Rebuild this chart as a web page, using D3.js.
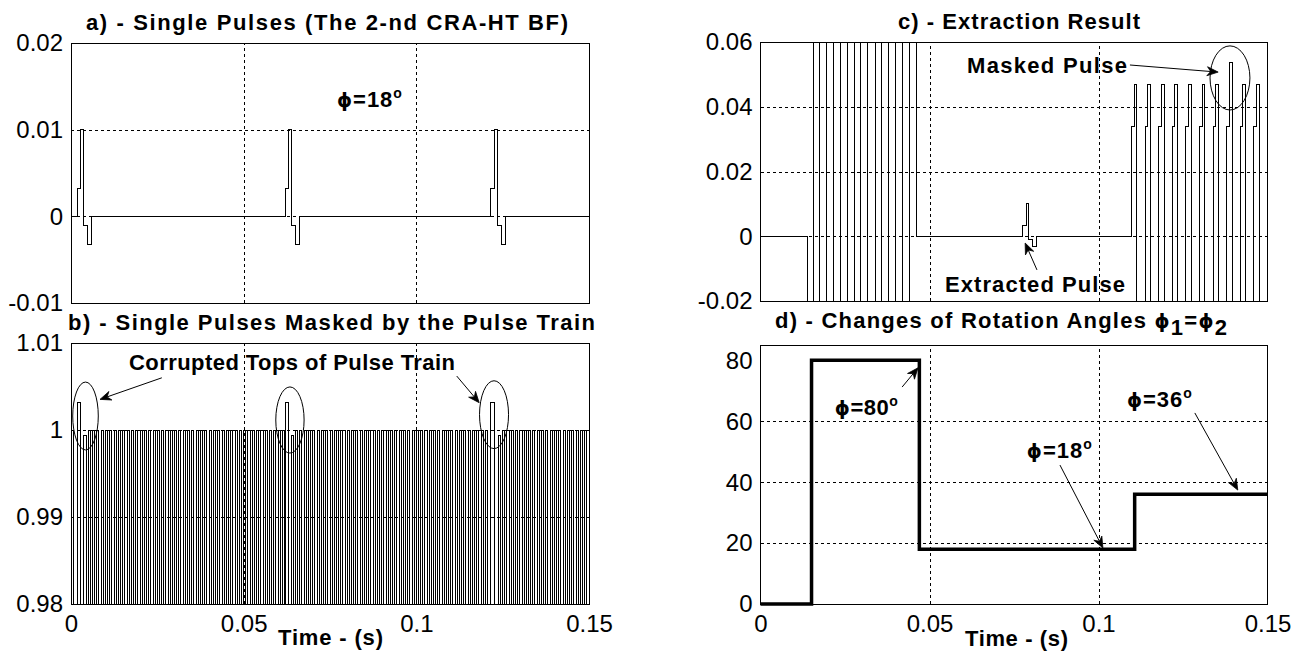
<!DOCTYPE html>
<html>
<head>
<meta charset="utf-8">
<title>Single pulses masked by a pulse train</title>
<style>
  body { margin: 0; background: #fff; }
  svg { display: block; }
  .tick text { font-family: "Liberation Sans", Arial, sans-serif; font-size: 24px; fill: #000; }
  .bold-label { font-family: "Liberation Sans", Arial, sans-serif; font-size: 22px; font-weight: bold; fill: #000; }
  .grid line { stroke: #000; stroke-width: 1; stroke-dasharray: 3,3; shape-rendering: crispEdges; }
  .signal { fill: none; stroke: #000; stroke-width: 1; shape-rendering: crispEdges; }
</style>
</head>
<body>
<svg id="viz"></svg>
<script src="https://cdn.jsdelivr.net/npm/d3@7/dist/d3.min.js"></script>
<script>
// ---- values ----
var tMax = 0.15;
var xTicks = [0, 0.05, 0.1, 0.15];
var xTickLabels = ["0", "0.05", "0.1", "0.15"];

// a) single pulses: start times, and one pulse as steps (time after start, level)
var pulseStarts = [0.00182, 0.0620, 0.1216];
var pulseStepT = [0, 0.00105, 0.0018, 0.0030, 0.0042];
var pulseStepV = [0.0032, 0.0100, -0.0010, -0.0033, 0];
var aTicks = [-0.01, 0, 0.01, 0.02];
var aTickLabels = ["-0.01", "0", "0.01", "0.02"];

// b) pulse train and its corrupted tops
var trainPeriod = 0.00125;
var trainOn = 0.0006;
var trainHigh = 1;
var trainLow = 0.97;      // off the bottom of the axis
var corruptTop = 1.0032;
var corruptWidth = 0.001;
var notchTop = 0.9994;
var bTicks = [0.98, 0.99, 1, 1.01];
var bTickLabels = ["0.98", "0.99", "1", "1.01"];

// c) extraction result
var burstEdges = [0.01376, 0.01562, 0.01760, 0.01959, 0.02154, 0.02373, 0.02568, 0.02775, 0.02973,
                  0.03180, 0.03388, 0.03586, 0.03781, 0.04000, 0.04195, 0.04402, 0.04601];
var burstAmp = 1;         // far outside the axis, clipped
var extractedStart = 0.0776;
var maskStarts = [0.10976, 0.11379, 0.11781, 0.12183, 0.12586, 0.12988, 0.13391, 0.13793, 0.14195, 0.14598];
var maskStepT = [0, 0.0008, 0.0016];
var maskLevels = [0.034, 0.047];
var maskedIndex = 7;
var maskedTop = 0.0537;
var cTicks = [-0.02, 0, 0.02, 0.04, 0.06];
var cTickLabels = ["-0.02", "0", "0.02", "0.04", "0.06"];

// d) rotation angle steps
var angleT = [0, 0.0151, 0.0470, 0.1107, 0.15];
var angleV = [0, 80, 18, 36, 36];
var dTicks = [0, 20, 40, 60, 80];
var dTickLabels = ["0", "20", "40", "60", "80"];

var PHI = "\u03d5";

var width = 1302;
var height = 656;
var svg = d3.select("#viz").attr("width", width).attr("height", height);

var defs = svg.append("defs");

function makePanel(id, box, yDomain, yTicks, yLabels, showX) {
    var x = d3.scaleLinear().domain([0, tMax]).range([box.left, box.right]);
    var y = d3.scaleLinear().domain(yDomain).range([box.bottom, box.top]);
    var g = svg.append("g").attr("id", id);

    defs.append("clipPath").attr("id", id + "-clip")
      .append("rect")
        .attr("x", box.left).attr("y", box.top)
        .attr("width", box.right - box.left).attr("height", box.bottom - box.top);

    // dotted grid, only on the inner ticks
    g.append("g").attr("class", "grid")
        .attr("transform", "translate(0," + box.bottom + ")")
        .call(d3.axisBottom(x).tickValues(xTicks.slice(1, -1)).tickSize(-(box.bottom - box.top)).tickFormat(""))
        .call(function(s) { s.select(".domain").remove(); });
    g.append("g").attr("class", "grid")
        .attr("transform", "translate(" + box.left + ",0)")
        .call(d3.axisLeft(y).tickValues(yTicks.slice(1, -1)).tickSize(-(box.right - box.left)).tickFormat(""))
        .call(function(s) { s.select(".domain").remove(); });

    g.append("g")
        .attr("transform", "translate(" + box.left + ",0)")
        .call(d3.axisLeft(y).tickValues(yTicks).tickSize(0).tickPadding(8)
              .tickFormat(function(d, i) { return yLabels[i]; }))
        .call(function(s) { s.select(".domain").remove(); s.selectAll("text").attr("dy", "0.33em"); });

    if (showX) {
        g.append("g")
            .attr("transform", "translate(0," + box.bottom + ")")
            .call(d3.axisBottom(x).tickValues(xTicks).tickSize(0).tickPadding(11)
                  .tickFormat(function(d, i) { return xTickLabels[i]; }))
            .call(function(s) { s.select(".domain").remove(); });
    }

    var plot = g.append("g").attr("clip-path", "url(#" + id + "-clip)");
    return {g: g, x: x, y: y, box: box, plot: plot};
}

function drawBox(p) {
    p.g.append("rect")
        .attr("x", p.box.left).attr("y", p.box.top)
        .attr("width", p.box.right - p.box.left).attr("height", p.box.bottom - p.box.top)
        .attr("fill", "none").attr("stroke", "#000").attr("stroke-width", 1)
        .attr("shape-rendering", "crispEdges");
}

function stepLine(p) {
    return d3.line()
        .x(function(d) { return p.x(d.t); })
        .y(function(d) { return p.y(d.v); })
        .curve(d3.curveStepAfter);
}

function title(x, y, w, text) {
    return svg.append("text").attr("class", "bold-label")
        .attr("x", x).attr("y", y)
        .attr("textLength", w).attr("lengthAdjust", "spacing")
        .text(text);
}

function label(p, t, v, w, text) {
    return p.g.append("text").attr("class", "bold-label")
        .attr("x", p.x(t)).attr("y", p.y(v))
        .attr("textLength", w).attr("lengthAdjust", "spacing")
        .text(text);
}

function phiLabel(p, t, v, w, deg) {
    var txt = p.g.append("text").attr("class", "bold-label")
        .attr("x", p.x(t)).attr("y", p.y(v))
        .attr("textLength", w).attr("lengthAdjust", "spacing");
    txt.append("tspan").style("font-family", "'DejaVu Sans', sans-serif").style("font-size", "19px").text(PHI);
    txt.append("tspan").text("=" + deg);
    txt.append("tspan").attr("dy", -9).style("font-size", "14px").text("o");
    return txt;
}

// arrow with a notched head, from (t1,v1) to (t2,v2)
function arrow(p, t1, v1, t2, v2) {
    var x1 = p.x(t1), y1 = p.y(v1), x2 = p.x(t2), y2 = p.y(v2);
    var a = Math.atan2(y2 - y1, x2 - x1);
    var len = 11, half = 4.5, notch = 7.5;
    function pt(back, side) {
        return [x2 - back * Math.cos(a) - side * Math.sin(a), y2 - back * Math.sin(a) + side * Math.cos(a)];
    }
    p.g.append("line")
        .attr("x1", x1).attr("y1", y1)
        .attr("x2", pt(notch, 0)[0]).attr("y2", pt(notch, 0)[1])
        .attr("stroke", "#000").attr("stroke-width", 1);
    p.g.append("path")
        .attr("d", "M" + [x2, y2] + "L" + pt(len, half) + "L" + pt(notch, 0) + "L" + pt(len, -half) + "Z")
        .attr("fill", "#000").attr("stroke", "#000").attr("stroke-width", 0.8);
}

function ellipse(p, t, v, rt, rv) {
    p.g.append("ellipse")
        .attr("cx", p.x(t)).attr("cy", p.y(v))
        .attr("rx", Math.abs(p.x(t + rt) - p.x(t)))
        .attr("ry", Math.abs(p.y(v + rv) - p.y(v)))
        .attr("fill", "none").attr("stroke", "#000").attr("stroke-width", 1);
}

// ---- panel a ----
var pa = makePanel("pa", {left: 71, top: 43, right: 589, bottom: 303}, [-0.01, 0.02], aTicks, aTickLabels, false);
var aPoints = [{t: 0, v: 0}];
pulseStarts.forEach(function(s) {
    pulseStepT.forEach(function(dt, i) { aPoints.push({t: s + dt, v: pulseStepV[i]}); });
});
aPoints.push({t: tMax, v: 0});
pa.plot.append("path").datum(aPoints).attr("class", "signal").attr("d", stepLine(pa));
drawBox(pa);
phiLabel(pa, 0.0770, 0.01267, 65, "18");

// ---- panel b ----
var pb = makePanel("pb", {left: 71, top: 343, right: 589, bottom: 604}, [0.98, 1.01], bTicks, bTickLabels, true);
var bPoints = [{t: 0, v: trainLow}];
var used = {};
var notchNext = false;
for (var k = 0; k * trainPeriod < tMax; k++) {
    var s = k * trainPeriod, e = s + trainOn;
    var hit = -1;
    pulseStarts.forEach(function(p0, j) {
        if (s < p0 + corruptWidth && e > p0) hit = j;
    });
    if (hit >= 0) {
        if (!used[hit]) {
            used[hit] = true;
            bPoints.push({t: pulseStarts[hit], v: corruptTop});
            bPoints.push({t: pulseStarts[hit] + corruptWidth, v: trainLow});
            notchNext = true;
        }
        continue;
    }
    bPoints.push({t: s, v: notchNext ? notchTop : trainHigh});
    bPoints.push({t: e, v: trainLow});
    notchNext = false;
}
bPoints.push({t: tMax, v: trainLow});
pb.plot.append("path").datum(bPoints).attr("class", "signal").attr("d", stepLine(pb));
drawBox(pb);
label(pb, 0.0168, 1.0069, 326, "Corrupted Tops of Pulse Train");
arrow(pb, 0.0263, 1.0060, 0.0084, 1.00352);
arrow(pb, 0.1117, 1.0062, 0.1182, 1.00314);
ellipse(pb, 0.0042, 1.00161, 0.0037, 0.0039);
ellipse(pb, 0.0634, 1.00115, 0.0041, 0.0038);
ellipse(pb, 0.1225, 1.00176, 0.0042, 0.0039);
pb.g.append("text").attr("class", "bold-label")
    .attr("x", 278).attr("y", 645).attr("textLength", 105).attr("lengthAdjust", "spacing")
    .text("Time - (s)");

// ---- panel c ----
var pc = makePanel("pc", {left: 760.5, top: 42, right: 1267.5, bottom: 301}, [-0.02, 0.06], cTicks, cTickLabels, false);
var cPoints = [{t: 0, v: 0}];
burstEdges.forEach(function(t, i) {
    var v = i === burstEdges.length - 1 ? 0 : (i % 2 === 0 ? -burstAmp : burstAmp);
    cPoints.push({t: t, v: v});
});
pulseStepT.forEach(function(dt, i) { cPoints.push({t: extractedStart + dt, v: pulseStepV[i]}); });
maskStarts.forEach(function(s, k) {
    cPoints.push({t: s + maskStepT[0], v: maskLevels[0]});
    cPoints.push({t: s + maskStepT[1], v: k === maskedIndex ? maskedTop : maskLevels[1]});
    cPoints.push({t: s + maskStepT[2], v: -burstAmp});
});
cPoints.push({t: tMax, v: -burstAmp});
pc.plot.append("path").datum(cPoints).attr("class", "signal").attr("d", stepLine(pc));
drawBox(pc);
label(pc, 0.0611, 0.0505, 160, "Masked Pulse");
arrow(pc, 0.1093, 0.0529, 0.1354, 0.0507);
ellipse(pc, 0.1389, 0.0489, 0.0059, 0.0099);
label(pc, 0.0546, -0.0171, 180, "Extracted Pulse");
arrow(pc, 0.0818, -0.0104, 0.0783, -0.0021);

// ---- panel d ----
var pd = makePanel("pd", {left: 760.5, top: 345, right: 1267.5, bottom: 604}, [0, 85], dTicks, dTickLabels, true);
var dPoints = angleT.map(function(t, i) { return {t: t, v: angleV[i]}; });
pd.g.append("path").datum(dPoints)
    .attr("fill", "none").attr("stroke", "#000").attr("stroke-width", 3.5)
    .attr("d", stepLine(pd));
drawBox(pd);
phiLabel(pd, 0.0220, 62.0, 63, "80");
arrow(pd, 0.0419, 71.2, 0.0466, 77.5);
phiLabel(pd, 0.0788, 47.9, 65, "18");
arrow(pd, 0.0886, 45.6, 0.1013, 18.4);
phiLabel(pd, 0.1084, 64.7, 65, "36");
arrow(pd, 0.1285, 62.7, 0.1412, 37.4);
pd.g.append("text").attr("class", "bold-label")
    .attr("x", 965).attr("y", 646).attr("textLength", 103).attr("lengthAdjust", "spacing")
    .text("Time - (s)");

// ---- titles ----
title(86, 30, 482, "a) - Single Pulses (The 2-nd CRA-HT BF)");
title(68, 329.5, 527, "b) - Single Pulses Masked by the Pulse Train");
title(898, 29, 242, "c) - Extraction Result");
var td = title(775, 327.5, 452, "d) - Changes of Rotation Angles ");
td.append("tspan").style("font-family", "'DejaVu Sans', sans-serif").style("font-size", "19px").text(PHI);
td.append("tspan").attr("dy", 7).text("1");
td.append("tspan").attr("dy", -7).text("=");
td.append("tspan").style("font-family", "'DejaVu Sans', sans-serif").style("font-size", "19px").text(PHI);
td.append("tspan").attr("dy", 7).text("2");
</script>
</body>
</html>
